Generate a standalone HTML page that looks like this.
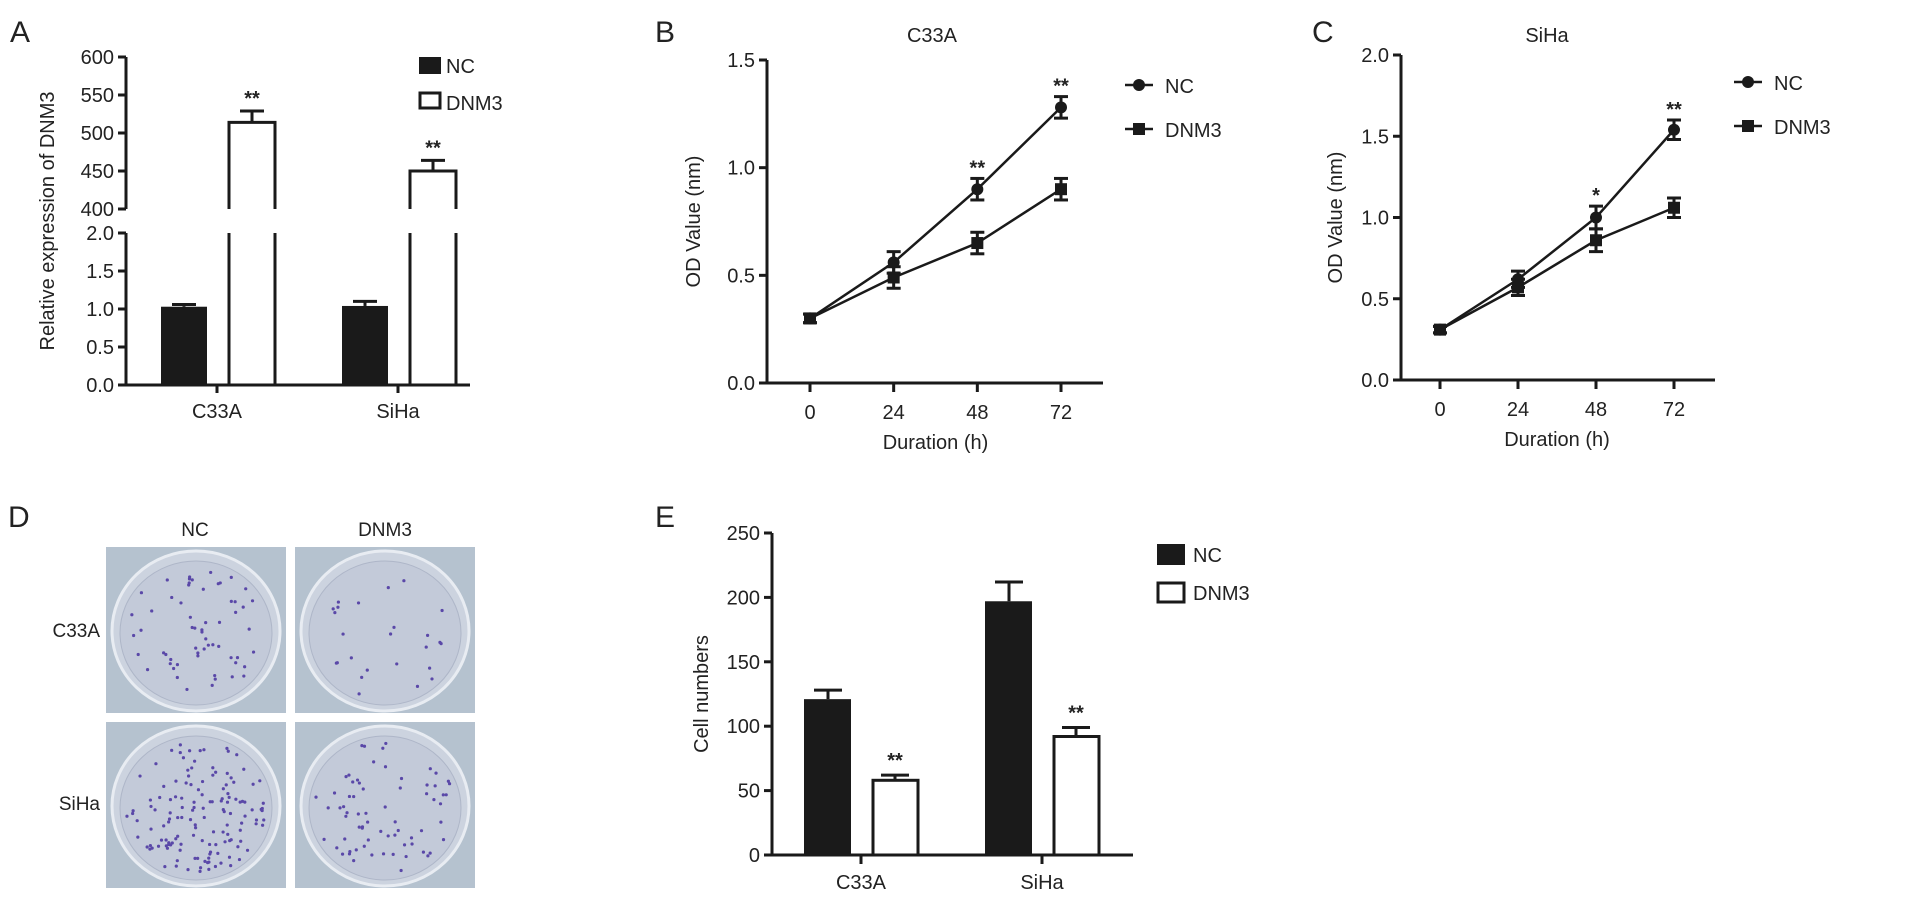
<!DOCTYPE html>
<html><head><meta charset="utf-8"><style>
html,body{margin:0;padding:0;background:#fff;}
svg{display:block;font-family:"Liberation Sans",Arial,sans-serif;}
text{fill:#222;}
</style></head><body>
<svg id="fig" width="1913" height="907" viewBox="0 0 1913 907">
<g id="panelA"></g>
<g id="panelB"></g>
<g id="panelC"></g>
<g id="panelD"></g>
<g id="panelE"></g>
</svg>
<script>
// ---- Panel A data ----
const aCats = ["C33A","SiHa"];
const aNC = [1.03, 1.04];
const aNCerr = [0.03, 0.06];
const aDNM3 = [514, 450];
const aDNM3err = [15, 14];
const aUpperTicks = [400,450,500,550,600];
const aLowerTicks = [0.0,0.5,1.0,1.5,2.0];
// ---- Panel B data ----
const bTimes = [0,24,48,72];
const bNC = [0.30,0.56,0.90,1.28];
const bNCerr = [0.02,0.05,0.05,0.05];
const bDNM3 = [0.30,0.49,0.65,0.90];
const bDNM3err = [0.02,0.05,0.05,0.05];
const bTicks = [0.0,0.5,1.0,1.5];
const bStars = ["","","**","**"];
// ---- Panel C data ----
const cTimes = [0,24,48,72];
const cNC = [0.31,0.62,1.00,1.54];
const cNCerr = [0.02,0.05,0.07,0.06];
const cDNM3 = [0.31,0.57,0.86,1.06];
const cDNM3err = [0.02,0.05,0.07,0.06];
const cTicks = [0.0,0.5,1.0,1.5,2.0];
const cStars = ["","","*","**"];
// ---- Panel E data ----
const eCats = ["C33A","SiHa"];
const eNC = [121,197];
const eNCerr = [7,15];
const eDNM3 = [58,92];
const eDNM3err = [4,7];
const eTicks = [0,50,100,150,200,250];

const NS="http://www.w3.org/2000/svg";
function mk(parent,tag,attrs,txt){const e=document.createElementNS(NS,tag);for(const k in attrs)e.setAttribute(k,attrs[k]);if(txt!==undefined)e.textContent=txt;parent.appendChild(e);return e;}
const L={stroke:"#1a1a1a","stroke-width":3,fill:"none"};
function line(p,x1,y1,x2,y2,w){return mk(p,"line",{x1,y1,x2,y2,stroke:"#1a1a1a","stroke-width":w||3});}
function errBar(p,x,yTop,yBot,cap,bothCaps){line(p,x,yTop,x,yBot,3);line(p,x-cap,yTop,x+cap,yTop,3);if(bothCaps)line(p,x-cap,yBot,x+cap,yBot,3);}

// ===== Panel A =====
(function(){
const g=document.getElementById('panelA');
let t;
t=mk(g,"text",{x:10,y:42,"font-size":30},"A");


const ax=126;
const yU=v=>209-(v-400)*(152/200);
const yL=v=>385-v*(152/2);
line(g,ax,yU(600),ax,yU(400));
line(g,ax,yL(2),ax,385);
aUpperTicks.forEach(v=>{line(g,ax-8,yU(v),ax,yU(v));
 t=mk(g,"text",{x:ax-12,y:yU(v)+7,"font-size":20,"text-anchor":"end"},String(v));
 
 });
aLowerTicks.forEach(v=>{line(g,ax-8,yL(v),ax,yL(v));
 t=mk(g,"text",{x:ax-12,y:yL(v)+7,"font-size":20,"text-anchor":"end"},v.toFixed(1));
 
 });
line(g,ax-2,385,470,385);
t=mk(g,"text",{x:0,y:0,"font-size":20,"text-anchor":"middle",transform:"translate(54,221) rotate(-90)"},"Relative expression of DNM3");


const centers=[217,398];
aCats.forEach((c,i)=>{
 const cx=centers[i];
 line(g,cx,385,cx,393);
 t=mk(g,"text",{x:cx,y:418,"font-size":20,"text-anchor":"middle"},c);
 
 
 const nx=cx-56, dx=cx+12;
 errBar(g,nx+23,yL(aNC[i]+aNCerr[i]),yL(aNC[i]),12,false);
 const r=mk(g,"rect",{x:nx,y:yL(aNC[i]),width:46,height:385-yL(aNC[i]),fill:"#1a1a1a"});
 
 
 const top=yU(aDNM3[i]);
 errBar(g,dx+23,yU(aDNM3[i]+aDNM3err[i]),top,12,false);
 const p=mk(g,"path",{d:`M${dx},${yU(400)} L${dx},${top} L${dx+46},${top} L${dx+46},${yU(400)} M${dx},${yL(2)} L${dx},385 M${dx+46},${yL(2)} L${dx+46},385`,...L});
 
 
 t=mk(g,"text",{x:dx+23,y:yU(aDNM3[i]+aDNM3err[i])-6,"font-size":20,"text-anchor":"middle","font-weight":"bold"},"**");
 
 
});
let r=mk(g,"rect",{x:419,y:57,width:22,height:17,fill:"#1a1a1a"});


t=mk(g,"text",{x:446,y:73,"font-size":20},"NC");


r=mk(g,"rect",{x:420,y:93,width:20,height:15,fill:"#fff",stroke:"#1a1a1a","stroke-width":3});


t=mk(g,"text",{x:446,y:110,"font-size":20},"DNM3");


})();

// ===== Line panels =====
function linePanel(gid,letter,lx,title,titleX,ax,y0,yTop,ymax,ticks,xs,xEnd,times,nc,ncErr,dn,dnErr,stars,legX,legY,ytX){
 const g=document.getElementById(gid);
 let t=mk(g,"text",{x:lx,y:42,"font-size":30},letter);
 
 
 t=mk(g,"text",{x:titleX,y:42,"font-size":20,"text-anchor":"middle"},title);
 
 
 const y=v=>y0-v*(y0-yTop)/ymax;
 const xv=h=>xs[0]+h*(xs[1]-xs[0])/72;
 line(g,ax,yTop,ax,y0);
 line(g,ax-8,y0,xEnd,y0);
 ticks.forEach(v=>{line(g,ax-8,y(v),ax,y(v));
  t=mk(g,"text",{x:ax-12,y:y(v)+7,"font-size":20,"text-anchor":"end"},v.toFixed(1));
  
  });
 times.forEach(h=>{line(g,xv(h),y0,xv(h),y0+9);
  t=mk(g,"text",{x:xv(h),y:y0+36,"font-size":20,"text-anchor":"middle"},String(h));
  
  });
 t=mk(g,"text",{x:(xv(0)+xv(72))/2,y:y0+66,"font-size":20,"text-anchor":"middle"},"Duration (h)");
 
 
 t=mk(g,"text",{x:0,y:0,"font-size":20,"text-anchor":"middle",transform:`translate(${ytX},${(y0+yTop)/2}) rotate(-90)`},"OD Value (nm)");
 
 
 [[nc,ncErr,"nc"],[dn,dnErr,"dnm3"]].forEach(([vals,errs,nm])=>{
  const pl=mk(g,"polyline",{points:times.map((h,i)=>xv(h)+","+y(vals[i])).join(" "),stroke:"#1a1a1a","stroke-width":2.5,fill:"none"});
  
  
  times.forEach((h,i)=>{
   errBar(g,xv(h),y(vals[i]+errs[i]),y(vals[i]-errs[i]),7,true);
   let m;
   if(nm==="nc") m=mk(g,"circle",{cx:xv(h),cy:y(vals[i]),r:6,fill:"#1a1a1a"});
   else m=mk(g,"rect",{x:xv(h)-6,y:y(vals[i])-6,width:12,height:12,fill:"#1a1a1a"});
   
   
  });
 });
 times.forEach((h,i)=>{if(stars[i]){
  t=mk(g,"text",{x:xv(h),y:y(nc[i]+ncErr[i])-4,"font-size":20,"text-anchor":"middle","font-weight":"bold"},stars[i]);
  
  }});
 line(g,legX,legY,legX+28,legY,2.5);
 let m=mk(g,"circle",{cx:legX+14,cy:legY,r:6,fill:"#1a1a1a"});
 
 
 t=mk(g,"text",{x:legX+40,y:legY+8,"font-size":20},"NC");
 
 
 line(g,legX,legY+44,legX+28,legY+44,2.5);
 m=mk(g,"rect",{x:legX+8,y:legY+38,width:12,height:12,fill:"#1a1a1a"});
 
 
 t=mk(g,"text",{x:legX+40,y:legY+52,"font-size":20},"DNM3");
 
 
}
linePanel("panelB","B",655,"C33A",932,767,383,60,1.5,bTicks,[810,1061],1103,bTimes,bNC,bNCerr,bDNM3,bDNM3err,bStars,1125,85,700);
linePanel("panelC","C",1312,"SiHa",1547,1401,380,55,2.0,cTicks,[1440,1674],1715,cTimes,cNC,cNCerr,cDNM3,cDNM3err,cStars,1734,82,1342);

// ===== Panel D (colony plates) =====
(function(){
const g=document.getElementById('panelD');
let t=mk(g,"text",{x:8,y:527,"font-size":30},"D");


[["NC",195],["DNM3",385]].forEach(([s,x])=>{t=mk(g,"text",{x,y:536,"font-size":19,"text-anchor":"middle"},s);
 
 });
[["C33A",637],["SiHa",810]].forEach(([s,y])=>{t=mk(g,"text",{x:100,y,"font-size":19,"text-anchor":"end"},s);
 
 });
const cells=[[106,547,60],[295,547,25],[106,722,140],[295,722,70]];
const names=["plate-c33a-nc","plate-c33a-dnm3","plate-siha-nc","plate-siha-dnm3"];
cells.forEach(([x,y,n],k)=>{
 const gg=mk(g,"g",{});
 
 
 mk(gg,"rect",{x,y,width:180,height:166,fill:"#b5c2cf"});
 mk(gg,"ellipse",{cx:x+90,cy:y+84,rx:84,ry:80,fill:"#ccd3df",stroke:"#e8ecf2","stroke-width":3});
 mk(gg,"ellipse",{cx:x+90,cy:y+86,rx:76,ry:72,fill:"#c3cad9",stroke:"#aeb6c8","stroke-width":1});
 let s=k*97+13;
 for(let i=0;i<n;i++){s=(s*9301+49297)%233280;const a=s/233280*6.283;s=(s*9301+49297)%233280;const rr=Math.sqrt(s/233280)*70;
  mk(gg,"circle",{cx:x+90+Math.cos(a)*rr,cy:y+86+Math.sin(a)*rr*0.95,r:1.6,fill:"#5a48a8"});}
});
})();

// ===== Panel E =====
(function(){
const g=document.getElementById('panelE');
let t=mk(g,"text",{x:655,y:527,"font-size":30},"E");


const ax=772,y0=855,yT=533;
const y=v=>y0-v*(y0-yT)/250;
line(g,ax,yT,ax,y0);
line(g,ax-8,y0,1133,y0);
eTicks.forEach(v=>{line(g,ax-8,y(v),ax,y(v));
 t=mk(g,"text",{x:ax-12,y:y(v)+7,"font-size":20,"text-anchor":"end"},String(v));
 
 });
t=mk(g,"text",{x:0,y:0,"font-size":20,"text-anchor":"middle",transform:`translate(708,${(y0+yT)/2}) rotate(-90)`},"Cell numbers");


const centers=[861,1042];
eCats.forEach((c,i)=>{
 const cx=centers[i];
 line(g,cx,y0,cx,y0+9);
 t=mk(g,"text",{x:cx,y:889,"font-size":20,"text-anchor":"middle"},c);
 
 
 errBar(g,cx-33,y(eNC[i]+eNCerr[i]),y(eNC[i]),14,false);
 let r=mk(g,"rect",{x:cx-57,y:y(eNC[i]),width:47,height:y0-y(eNC[i]),fill:"#1a1a1a"});
 
 
 errBar(g,cx+34,y(eDNM3[i]+eDNM3err[i]),y(eDNM3[i]),14,false);
 r=mk(g,"rect",{x:cx+12,y:y(eDNM3[i]),width:45,height:y0-y(eDNM3[i]),fill:"#fff",stroke:"#1a1a1a","stroke-width":3});
 
 
 t=mk(g,"text",{x:cx+34,y:y(eDNM3[i]+eDNM3err[i])-8,"font-size":20,"text-anchor":"middle","font-weight":"bold"},"**");
 
 
});
let r=mk(g,"rect",{x:1157,y:544,width:28,height:21,fill:"#1a1a1a"});


t=mk(g,"text",{x:1193,y:562,"font-size":20},"NC");


r=mk(g,"rect",{x:1158,y:583,width:26,height:19,fill:"#fff",stroke:"#1a1a1a","stroke-width":3});


t=mk(g,"text",{x:1193,y:600,"font-size":20},"DNM3");


})();
</script>
</body></html>
